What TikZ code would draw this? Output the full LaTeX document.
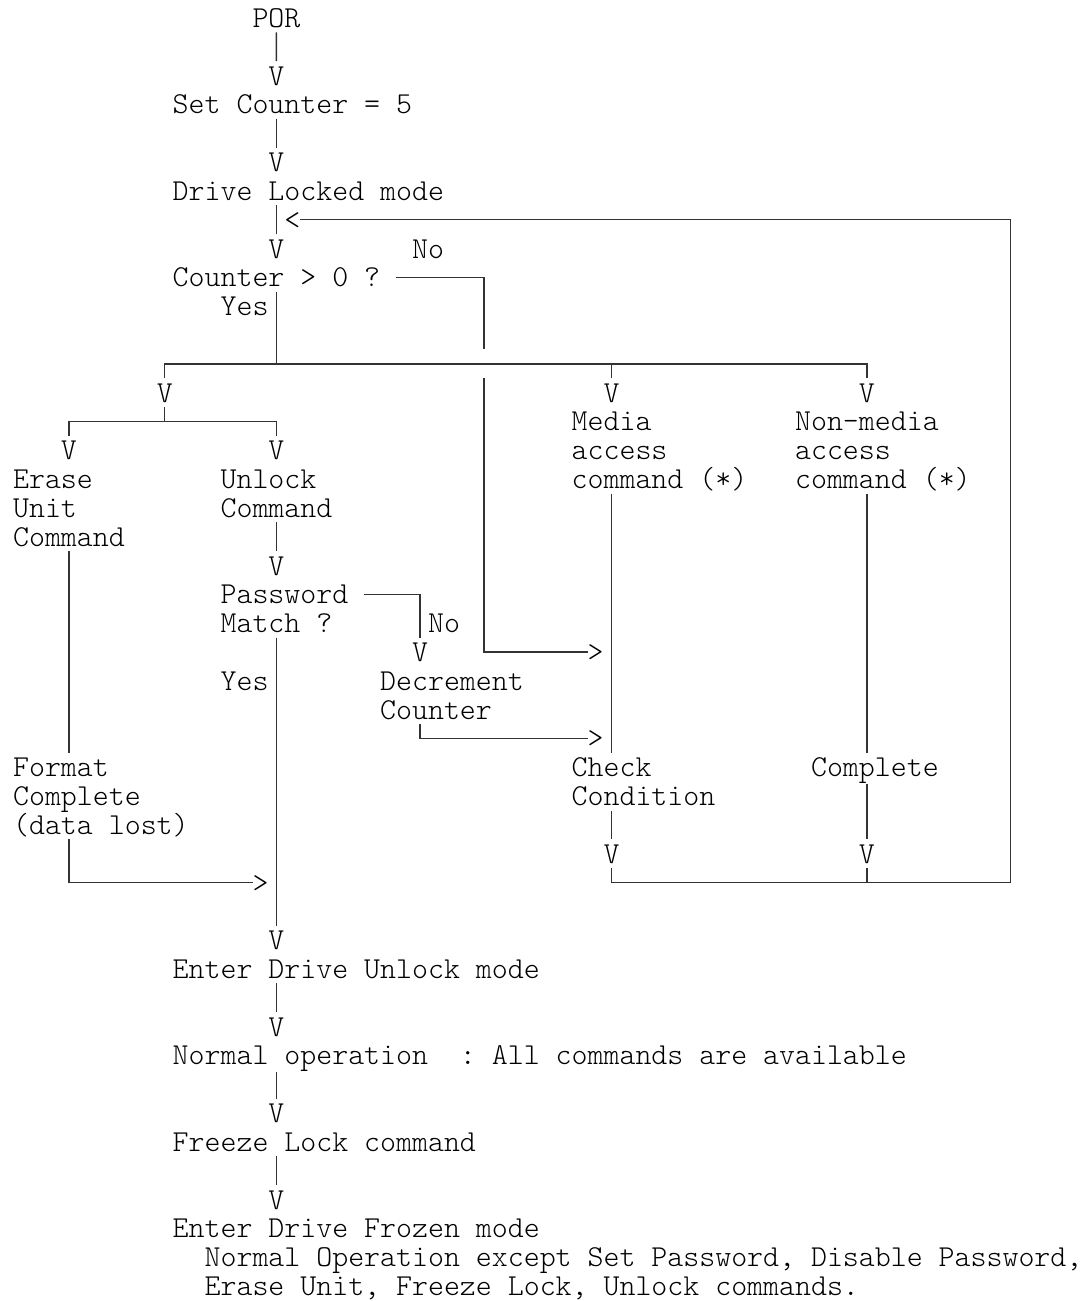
\documentclass[tikz,border=0pt]{standalone}
\definecolor{wiregray}{HTML}{333333}
\usepackage{tikz}
\usetikzlibrary{calc}
\newcommand{\rs}{\rule[-2.455pt]{0pt}{14.41pt}}
\newcommand{\flowfont}{\ttfamily\fontseries{l}\fontsize{15.2pt}{14.41pt}\selectfont\frenchspacing\lineskiplimit=-20pt\relax}
\tikzset{
  txt/.style={inner sep=0pt, outer sep=0pt, anchor=north west, align=left,
    font=\flowfont, execute at begin node=\rs, execute at end node=\rs},
  wire/.style={draw=wiregray, line width=0.75pt}
}
\begin{document}
\begin{tikzpicture}[x=7.98pt, y=-14.41pt]
        \useasboundingbox (-0.822,-0.125) rectangle (67.1,45.02);
        \node[txt] (por)   at (15,0)  {POR};
        \node[txt] (v1)    at (16,2)  {V};
        \node[txt] (setc)  at (10,3)  {Set Counter = 5};
        \node[txt] (v2)    at (16,5)  {V};
        \node[txt] (lock)  at (10,6)  {Drive Locked mode};
        \node[txt] (lt)    at (17,7)  {<};
        \node[txt] (v3)    at (16,8)  {V};
        \node[txt] (lbno)  at (25,8)  {No};
        \node[txt] (cnt)   at (10,9)  {Counter > 0 ?};
        \node[txt] (lbyes) at (13,10) {Yes};
        \coordinate (split1) at (16.5,12.5);
        \coordinate (gapT) at (29.5,12);
        \coordinate (gapB) at (29.5,13);
        \node[txt] (vL)    at (9,13)  {V};
        \node[txt] (vMed)  at (37,13) {V};
        \node[txt] (vNM)   at (53,13) {V};
        \coordinate (split2) at (9.5,14.5);
        \node[txt] (med)   at (35,14) {\rs Media\\access\\command (*)};
        \node[txt] (nmed)  at (49,14) {\rs Non—media\\access\\command (*)};
        \node[txt] (vE)    at (3,15)  {V};
        \node[txt] (vU)    at (16,15) {V};
        \node[txt] (era)   at (0,16)  {\rs Erase\\Unit\\Command};
        \node[txt] (unl)   at (13,16) {\rs Unlock\\Command};
        \node[txt] (vpw)   at (16,19) {V};
        \node[txt] (pw)    at (13,20) {\rs Password\\Match ?};
        \node[txt] (lbno2) at (26,21) {No};
        \node[txt] (vdec)  at (25,22) {V};
        \node[txt] (gt1)   at (36,22) {>};
        \node[txt] (lbyes2) at (13,23) {Yes};
        \node[txt] (dec)   at (23,23) {\rs Decrement\\Counter};
        \node[txt] (gt2)   at (36,25) {>};
        \node[txt] (fmt)   at (0,26)  {\rs Format\\Complete\\(data lost)};
        \node[txt] (chk)   at (35,26) {\rs Check\\Condition};
        \node[txt] (cmpl)  at (50,26) {Complete};
        \node[txt] (vchk)  at (37,29) {V};
        \node[txt] (vcmp)  at (53,29) {V};
        \node[txt] (gt3)   at (15,30) {>};
        \coordinate (loopc) at (62.5,30.5);
        \node[txt] (vul)   at (16,32) {V};
        \node[txt] (unlk)  at (10,33) {Enter Drive Unlock mode};
        \node[txt] (v5)    at (16,35) {V};
        \node[txt] (norm)  at (10,36) {Normal operation~~: All commands are available};
        \node[txt] (v6)    at (16,38) {V};
        \node[txt] (frz)   at (10,39) {Freeze Lock command};
        \node[txt] (v7)    at (16,41) {V};
        \node[txt] (frzn)  at (10,42) {Enter Drive Frozen mode};
        \node[txt] (note)  at (12,43) {\rs Normal Operation except Set Password, Disable Password,\\Erase Unit, Freeze Lock, Unlock commands.};

        \draw[wire] (por.south) -- (v1.north);
        \draw[wire] (setc.south -| v2) -- (v2.north);
        \draw[wire] (lock.south -| v3) -- (v3.north);
        \draw[wire] (cnt.south -| split1) -- (split1);
        \draw[wire] (vL.north) |- (split1) -| (vNM.north);
        \draw[wire] (vMed.north) -- (vMed.north |- split1);
        \draw[wire] ($(cnt.east)+(1,0)$) -| (gapT);
        \draw[wire] (gapB) |- (gt1.west);
        \draw[wire] (vL.south) -- (split2);
        \draw[wire] (vE.north) |- (split2) -| (vU.north);
        \draw[wire] (unl.south -| vU) -- (vpw.north);
        \draw[wire] ($(pw.north east)+(1,.5)$) -| (vdec.north);
        \draw[wire] (pw.south -| vpw) -- (vul.north);
        \draw[wire] (dec.south -| vdec) |- (gt2.west);
        \draw[wire] (era.south -| vE) -- (fmt.north -| vE);
        \draw[wire] (fmt.south -| vE) |- (gt3.west);
        \draw[wire] (med.south -| vMed) -- (chk.north -| vMed);
        \draw[wire] (nmed.south -| vNM) -- (cmpl.north -| vNM);
        \draw[wire] (chk.south -| vchk) -- (vchk.north);
        \draw[wire] (cmpl.south -| vcmp) -- (vcmp.north);
        \draw[wire] (vchk.south) |- (loopc) |- (lt.east);
        \draw[wire] (vcmp.south) -- (vcmp.south |- loopc);
        \draw[wire] (unlk.south -| v5) -- (v5.north);
        \draw[wire] (norm.south -| v6) -- (v6.north);
        \draw[wire] (frz.south -| v7) -- (v7.north);
      \end{tikzpicture}
\end{document}
